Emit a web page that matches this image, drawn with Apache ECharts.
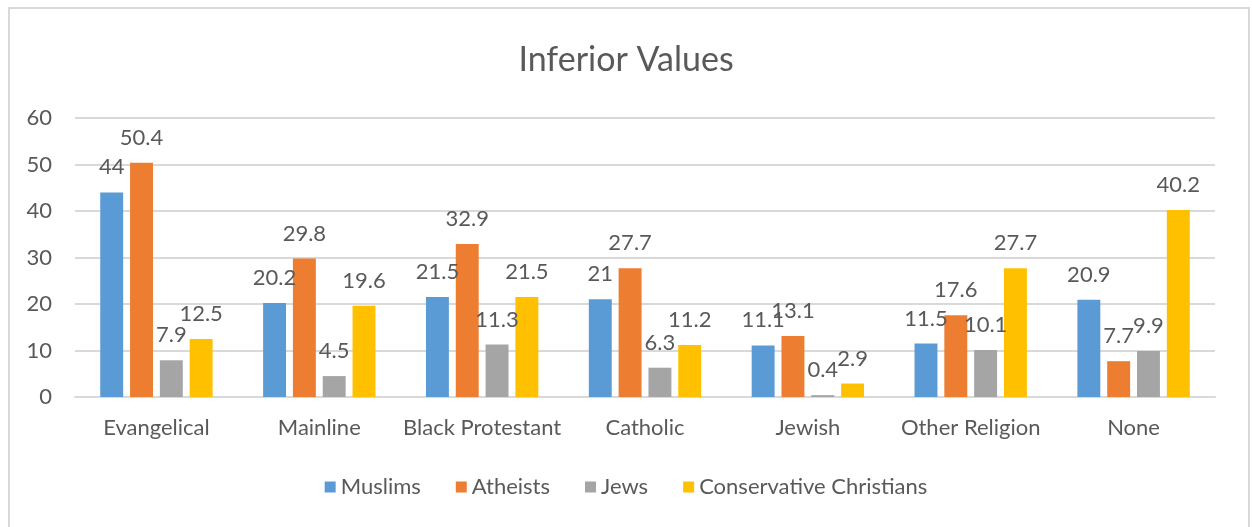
<!DOCTYPE html>
<html>
<head>
<meta charset="utf-8">
<script src="https://cdn.jsdelivr.net/npm/echarts@6/dist/echarts.min.js"></script>
<style>
html,body{margin:0;padding:0;background:#fff;}
#chart{width:1252px;height:527px;}
</style>
</head>
<body>
<div id="chart"></div>
<script>
const categories = ["Evangelical", "Mainline", "Black Protestant", "Catholic", "Jewish", "Other Religion", "None"];
const muslims = [44, 20.2, 21.5, 21, 11.1, 11.5, 20.9];
const atheists = [50.4, 29.8, 32.9, 27.7, 13.1, 17.6, 7.7];
const jews = [7.9, 4.5, 11.3, 6.3, 0.4, 10.1, 9.9];
const conservativeChristians = [12.5, 19.6, 21.5, 11.2, 2.9, 27.7, 40.2];
const seriesNames = ["Muslims", "Atheists", "Jews", "Conservative Christians"];
const seriesData = [muslims, atheists, jews, conservativeChristians];
const colors = ["#5B9BD5", "#ED7D31", "#A5A5A5", "#FFC000"];

const FONT = "Lato";
const TXT = "#595959";

const chart = echarts.init(document.getElementById('chart'), null, {renderer: 'canvas'});
chart.setOption({
  animation: false,
  color: colors,
  textStyle: {fontFamily: FONT, color: TXT},
  title: {
    text: "Inferior Values",
    left: 'center',
    top: 38,
    textStyle: {fontFamily: FONT, fontSize: 34, fontWeight: 'normal', color: TXT}
  },
  graphic: [{
    type: 'rect',
    shape: {x: 9, y: 8, width: 1240, height: 540},
    style: {fill: 'none', stroke: '#D9D9D9', lineWidth: 2},
    silent: true
  }],
  legend: {
    data: seriesNames,
    bottom: 24,
    left: 'center',
    itemWidth: 11,
    itemHeight: 11,
    itemGap: 35,
    icon: 'rect',
    textStyle: {fontFamily: FONT, fontSize: 22, color: TXT}
  },
  grid: {left: 75, right: 37, top: 118, bottom: 130, containLabel: false},
  xAxis: {
    type: 'category',
    data: categories,
    axisLine: {lineStyle: {color: '#D9D9D9', width: 2}},
    axisTick: {show: false},
    axisLabel: {fontFamily: FONT, fontSize: 22, color: TXT, margin: 20, interval: 0}
  },
  yAxis: {
    type: 'value',
    min: 0, max: 60, interval: 10,
    axisLine: {show: false},
    axisTick: {show: false},
    splitLine: {lineStyle: {color: '#D9D9D9', width: 2}},
    axisLabel: {fontFamily: FONT, fontSize: 22, color: TXT, margin: 23}
  },
  series: seriesData.map((d, i) => ({
    name: seriesNames[i],
    type: 'bar',
    data: d,
    barGap: '30%',
    barCategoryGap: '31%',
    label: {
      show: true,
      position: 'top',
      distance: 14,
      fontFamily: FONT,
      fontSize: 22,
      color: TXT
    }
  }))
});
</script>
</body>
</html>
